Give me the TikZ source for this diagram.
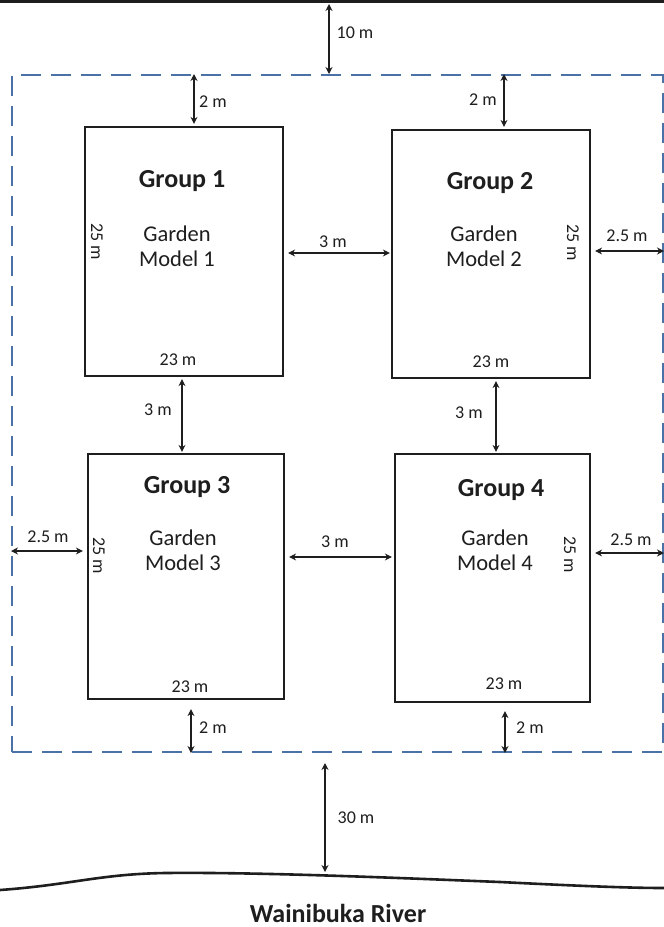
\documentclass[tikz,border=0pt]{standalone}
\usepackage{fontspec}
\setmainfont{Carlito}
\usetikzlibrary{arrows.meta,calc}
\definecolor{dashblue}{RGB}{74,114,166}
\definecolor{ink}{RGB}{30,30,30}
\begin{document}
\begin{tikzpicture}[x=1pt,y=-1pt,
  box/.style={draw=ink, line width=2.2pt, minimum width=#1, inner sep=0pt},
  dim/.style={draw=ink, line width=1.8pt, {Stealth[length=7pt,width=7pt]}-{Stealth[length=7pt,width=7pt]}},
  lab/.style={text=ink, font=\fontsize{18}{21}\selectfont, inner sep=0pt},
  grp/.style={text=ink, font=\bfseries\fontsize{26}{30}\selectfont, inner sep=0pt},
  gm/.style={text=ink, font=\fontsize{22.5}{25}\selectfont, align=center, inner sep=0pt},
  vlab/.style={lab, rotate=-90}
]
\useasboundingbox (0,0) rectangle (664,927);
\fill[white] (0,0) rectangle (664,927);
% top border line
\draw[ink, line width=3.5pt] (0,1.5) -- (664,1.5);
\coordinate (topline) at (329,4);
% plot boundary
\node[draw=dashblue, line width=2pt, dash pattern=on 20pt off 10pt,
      minimum width=651pt, minimum height=677pt, inner sep=0pt] (plot) at (337.5,413.5) {};
% garden boxes
\node[box=198pt, minimum height=249pt] (b1) at (184,251.5) {};
\node[box=198pt, minimum height=248pt] (b2) at (491,254) {};
\node[box=196pt, minimum height=245pt] (b3) at (186,576.5) {};
\node[box=195pt, minimum height=248pt] (b4) at (492.5,578) {};
% box texts
\node[grp] (g1) at (182,181) {Group 1};
\node[gm] (m1) at (177,246.5) {Garden\\Model 1};
\node[vlab] (v1) at (97,242) {25 m};
\node[lab] (h1) at (178,360) {23 m};
\node[grp] (g2) at (490,183) {Group 2};
\node[gm] (m2) at (484,246.5) {Garden\\Model 2};
\node[vlab] (v2) at (573,243) {25 m};
\node[lab] (h2) at (491,362) {23 m};
\node[grp] (g3) at (187,487) {Group 3};
\node[gm] (m3) at (183,550) {Garden\\Model 3};
\node[vlab] (v3) at (99,556) {25 m};
\node[lab] (h3) at (190,687) {23 m};
\node[grp] (g4) at (501,490) {Group 4};
\node[gm] (m4) at (495,550) {Garden\\Model 4};
\node[vlab] (v4) at (570,555) {25 m};
\node[lab] (h4) at (504,684) {23 m};
% dimension arrows
\draw[dim] (topline) -- (topline |- plot.north);
\node[lab] (l10) at (355,33) {10 m};
\draw[dim, shorten <=2pt] ([xshift=10pt]b1.north) -- ([xshift=10pt]b1.north |- plot.north);
\node[lab] (l1t) at (213,102) {2 m};
\draw[dim, shorten <=2pt] ([xshift=13pt]b2.north) -- ([xshift=13pt]b2.north |- plot.north);
\node[lab] (l2t) at (483,100) {2 m};
\draw[dim, shorten <=4pt, shorten >=1pt] ([yshift=-1.5pt]b1.east) -- ([yshift=-1.5pt]b1.east -| b2.west);
\node[lab] (l12) at (333,242) {3 m};
\draw[dim, shorten <=4pt] ([yshift=3pt]b2.east) -- ([yshift=3pt]b2.east -| plot.east);
\node[lab] (l2r) at (627,236) {2.5 m};
\draw[dim, shorten <=2pt, shorten >=1pt] ([xshift=-2pt]b1.south) -- ([xshift=-2pt]b1.south |- b3.north);
\node[lab] (l13) at (158,410) {3 m};
\draw[dim, shorten <=2pt, shorten >=1pt] ([xshift=5pt]b2.south) -- ([xshift=5pt]b2.south |- b4.north);
\node[lab] (l24) at (469,413) {3 m};
\draw[dim, shorten <=4pt] ([yshift=25.5pt]b3.west) -- ([yshift=25.5pt]b3.west -| plot.west);
\node[lab] (l3l) at (48,537) {2.5 m};
\draw[dim, shorten <=4pt, shorten >=2pt] ([yshift=19.5pt]b3.east) -- ([yshift=19.5pt]b3.east -| b4.west);
\node[lab] (l34) at (335,542) {3 m};
\draw[dim, shorten <=4pt] ([yshift=25pt]b4.east) -- ([yshift=25pt]b4.east -| plot.east);
\node[lab] (l4r) at (631,540) {2.5 m};
\draw[dim, shorten <=9pt] ([xshift=5pt]b3.south) -- ([xshift=5pt]b3.south |- plot.south);
\node[lab] (l3b) at (213,728) {2 m};
\draw[dim, shorten <=8pt] ([xshift=12.5pt]b4.south) -- ([xshift=12.5pt]b4.south |- plot.south);
\node[lab] (l4b) at (530,728) {2 m};
% river
\draw[ink, line width=2.6pt] (0,890) .. controls (70,885) and (100,874) .. (165,873)
  .. controls (260,872) and (400,878) .. (500,882) .. controls (580,886) and (630,888) .. (664,888);
\coordinate (river) at (325,874);
\draw[dim, shorten <=10pt, shorten >=2pt] (river |- plot.south) -- (river);
\node[lab] (l30) at (356,818) {30 m};
\node[grp] (rname) at (338,913) {Wainibuka River};
\end{tikzpicture}
\end{document}
